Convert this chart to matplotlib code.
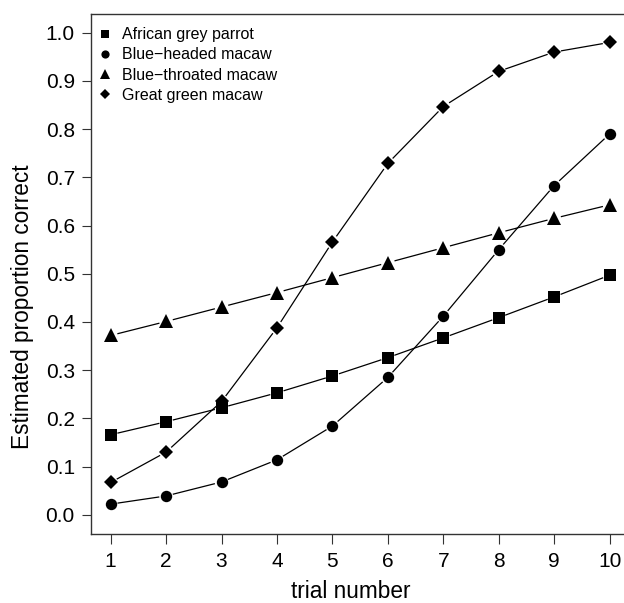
import matplotlib
matplotlib.use("Agg")
import numpy as np
import matplotlib.pyplot as plt
from matplotlib.lines import Line2D
from matplotlib.transforms import IdentityTransform

plt.rcParams['font.family'] = ['Liberation Sans', 'DejaVu Sans']

trials = [1, 2, 3, 4, 5, 6, 7, 8, 9, 10]
african_grey = [0.166, 0.193, 0.222, 0.253, 0.288, 0.326, 0.367, 0.409, 0.452, 0.497]
blue_headed = [0.022, 0.039, 0.068, 0.114, 0.184, 0.285, 0.412, 0.550, 0.683, 0.790]
blue_throated = [0.372, 0.401, 0.431, 0.461, 0.492, 0.523, 0.554, 0.585, 0.615, 0.643]
great_green = [0.067, 0.130, 0.235, 0.388, 0.566, 0.729, 0.847, 0.920, 0.960, 0.980]
series_names = ["African grey parrot", "Blue\u2212headed macaw",
                "Blue\u2212throated macaw", "Great green macaw"]
yticks = [0.0, 0.1, 0.2, 0.3, 0.4, 0.5, 0.6, 0.7, 0.8, 0.9, 1.0]

fig = plt.figure(figsize=(6.24, 6.03), dpi=100)
ax = fig.add_axes([0.1454, 0.1144, 0.8635, 0.8632])
ax.set_xlim(0.64, 10.36)
ax.set_ylim(-0.04, 1.04)

series = [african_grey, blue_headed, blue_throated, great_green]
markers = ['s', 'o', '^', 'D']
msizes = [8.0, 8.2, 9.5, 7.6]
gap = 7.5  # pixels of gap around each point (R type="b")

for vals, m, ms in zip(series, markers, msizes):
    ax.plot(trials, vals, color='black', linestyle='None', marker=m, ms=ms,
            markerfacecolor='black', markeredgecolor='black', markeredgewidth=0,
            zorder=3)
    pts = ax.transData.transform(np.column_stack([trials, vals]))
    for p0, p1 in zip(pts[:-1], pts[1:]):
        d = p1 - p0
        L = np.hypot(*d)
        if L <= 2 * gap:
            continue
        u = d / L
        a = p0 + u * gap
        b = p1 - u * gap
        fig.add_artist(Line2D([a[0], b[0]], [a[1], b[1]], color='black', lw=0.9,
                              transform=IdentityTransform(), zorder=2))

ax.set_xticks(trials)
ax.set_yticks(yticks)
ax.set_yticklabels([f"{v:.1f}" for v in yticks])
ax.tick_params(axis='y', length=6.5, width=0.8, pad=5, labelsize=15, color='#333333')
ax.tick_params(axis='x', length=7.2, width=0.8, pad=5.5, labelsize=15, color='#333333')
for s in ['left', 'bottom', 'top']:
    ax.spines[s].set_color('#333333')
    ax.spines[s].set_linewidth(1.0)
ax.spines['right'].set_visible(False)

xl = ax.set_xlabel("trial number", fontsize=16.3)
yl = ax.set_ylabel("Estimated proportion correct", fontsize=16.3)
xl.set_verticalalignment('center')
xl.set_horizontalalignment('center')
yl.set_verticalalignment('center')
yl.set_horizontalalignment('center')
yl.set_rotation_mode('default')
ax.xaxis.set_label_coords(0.483, -0.111)
ax.yaxis.set_label_coords(-0.1257, 0.436)

handles = [Line2D([], [], color='black', marker=m, linestyle='None', ms=ms * 0.72,
                  markeredgewidth=0) for m, ms in zip(markers, msizes)]
ax.legend(handles, series_names, loc='upper left', frameon=False, fontsize=11.5,
          handlelength=0.8, handletextpad=0.69, labelspacing=0.33,
          borderaxespad=0, borderpad=0, bbox_to_anchor=(0.0147, 0.9739))

fig.savefig("out.png", dpi=100)
